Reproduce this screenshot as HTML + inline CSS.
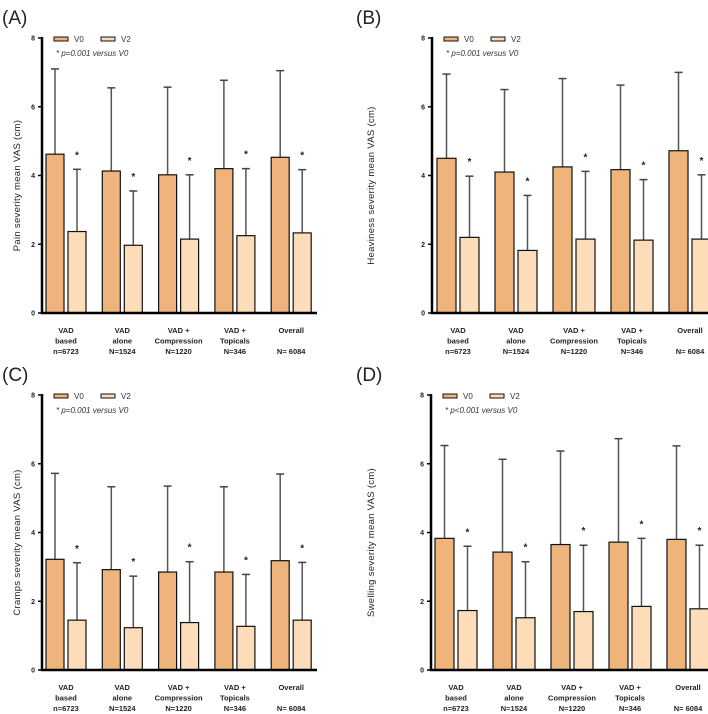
<!DOCTYPE html>
<html><head><meta charset="utf-8"><style>
html,body{margin:0;padding:0;background:#fff;}
svg{display:block;font-family:"Liberation Sans",sans-serif;}
</style></head><body>
<svg id="s" width="708" height="714" viewBox="0 0 708 714"></svg>
<script>
const categories=[["VAD","based","n=6723"],["VAD","alone","N=1524"],["VAD +","Compression","N=1220"],["VAD +","Topicals","N=346"],["Overall","","N= 6084"]];
const yTicks=[0,2,4,6,8];
const painV0=[4.62,4.13,4.02,4.2,4.53], painV0sd=[7.1,6.55,6.57,6.77,7.05];
const painV2=[2.37,1.97,2.15,2.25,2.33], painV2sd=[4.18,3.55,4.02,4.2,4.17];
const heavyV0=[4.5,4.1,4.25,4.17,4.72], heavyV0sd=[6.95,6.5,6.82,6.63,7.0];
const heavyV2=[2.2,1.82,2.15,2.12,2.15], heavyV2sd=[3.98,3.42,4.12,3.88,4.02];
const crampV0=[3.22,2.92,2.85,2.85,3.18], crampV0sd=[5.72,5.33,5.35,5.33,5.7];
const crampV2=[1.45,1.23,1.38,1.27,1.45], crampV2sd=[3.12,2.73,3.15,2.78,3.13];
const swellV0=[3.83,3.43,3.65,3.72,3.8], swellV0sd=[6.53,6.13,6.37,6.73,6.52];
const swellV2=[1.73,1.52,1.7,1.85,1.78], swellV2sd=[3.6,3.15,3.63,3.83,3.63];

const NS="http://www.w3.org/2000/svg";
const svg=document.getElementById('s');
function mk(tag,attrs,parent,text){const e=document.createElementNS(NS,tag);for(const k in attrs)e.setAttribute(k,attrs[k]);if(text!==undefined)e.textContent=text;(parent||svg).appendChild(e);return e;}

const panels=[
 {id:'a',letter:'(A)',ox:0,oy:0,ax:42,right:317,start:46,step:56.3,bw:18,gap:22,title:'Pain severity mean VAS (cm)',v0:painV0,s0:painV0sd,v2:painV2,s2:painV2sd,p:'p=0.001'},
 {id:'b',letter:'(B)',ox:354,oy:0,ax:78,right:354,start:83,step:58,bw:19,gap:23,title:'Heaviness severity mean VAS (cm)',v0:heavyV0,s0:heavyV0sd,v2:heavyV2,s2:heavyV2sd,p:'p=0.001'},
 {id:'c',letter:'(C)',ox:0,oy:357,ax:42,right:317,start:46,step:56.3,bw:18,gap:22,title:'Cramps severity mean VAS (cm)',v0:crampV0,s0:crampV0sd,v2:crampV2,s2:crampV2sd,p:'p=0.001'},
 {id:'d',letter:'(D)',ox:354,oy:357,ax:77,right:354,start:81,step:58,bw:19,gap:23,title:'Swelling severity mean VAS (cm)',v0:swellV0,s0:swellV0sd,v2:swellV2,s2:swellV2sd,p:'p<0.001'}
];

panels.forEach(P=>{
 const g=mk('g',{transform:`translate(${P.ox},${P.oy})`});
 
 
 const y0=313,y8=38;
 const ys=v=>y0-(v/8)*(y0-y8);
 const lt=mk('text',{x:2,y:24,'font-size':19,fill:'#222'},g,P.letter);
 
 
 // y title
 const yt=mk('text',{transform:`translate(20,${(y0+y8)/2+10}) rotate(-90)`,'text-anchor':'middle','font-size':9.5,fill:'#222','letter-spacing':'0.3'},g,P.title);
 
 
 yTicks.forEach(t=>{
  const tl=mk('line',{x1:P.ax-4,x2:P.ax,y1:ys(t),y2:ys(t),stroke:'#000','stroke-width':1.5},g);
  
  
  const tx=mk('text',{x:P.ax-7,y:ys(t)+2.5,'text-anchor':'end','font-size':7,'font-weight':'bold',fill:'#222'},g,String(t));
  
  
 });
 categories.forEach((c,i)=>{
  const x0=P.start+i*P.step, x2=x0+P.gap;
  [[P.v0,P.s0,x0,'#efb47c','v0'],[P.v2,P.s2,x2,'#fcdcb9','v2']].forEach(([vals,sds,x,col,nm])=>{
   const cx=x+P.bw/2;
   const el=mk('line',{x1:cx,x2:cx,y1:ys(vals[i]),y2:ys(sds[i]),stroke:'#555','stroke-width':1.5},g);
   
   
   const cap=mk('line',{x1:cx-4,x2:cx+4,y1:ys(sds[i]),y2:ys(sds[i]),stroke:'#444','stroke-width':1.5},g);
   
   
   const r=mk('rect',{x:x,y:ys(vals[i]),width:P.bw,height:y0-ys(vals[i]),fill:col,stroke:'#111','stroke-width':1.2},g);
   
   
   if(nm==='v2'){
    const st=mk('text',{x:cx,y:ys(sds[i])-11,'text-anchor':'middle','font-size':10,'font-weight':'bold',fill:'#222'},g,'*');
    
    
   }
  });
  const lc=x0+(P.gap+P.bw)/2;
  c.forEach((line,k)=>{
   if(!line)return;
   const t=mk('text',{x:lc,y:333+k*10.5,'text-anchor':'middle','font-size':7.5,'font-weight':'bold',fill:'#222'},g,line);
   
   
  });
 });
 const ya=mk('line',{x1:P.ax,x2:P.ax,y1:y8-1,y2:y0+1,stroke:'#000','stroke-width':2.5},g);
 
 
 const xa=mk('line',{x1:P.ax-1,x2:P.right,y1:y0,y2:y0,stroke:'#000','stroke-width':2.5},g);
 
 
 // legend
 const lx=P.ax+12;
 const l1=mk('rect',{x:lx,y:37,width:14,height:4,fill:'#efb47c',stroke:'#111','stroke-width':1},g);
 
 
 const l1t=mk('text',{x:lx+20,y:42,'font-size':8,fill:'#333'},g,'V0');
 
 
 const l2=mk('rect',{x:lx+47,y:37,width:14,height:4,fill:'#fcdcb9',stroke:'#111','stroke-width':1},g);
 
 
 const l2t=mk('text',{x:lx+67,y:42,'font-size':8,fill:'#333'},g,'V2');
 
 
 const nt=mk('text',{x:lx+2,y:56,'font-size':8,'font-style':'italic',fill:'#333'},g,'* '+P.p+' versus V0');
 
 
});
</script>
</body></html>
